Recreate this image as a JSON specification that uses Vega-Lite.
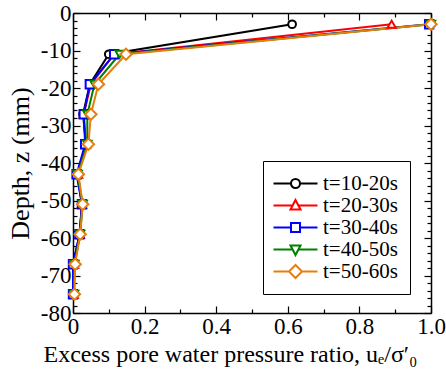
{
  "$schema": "https://vega.github.io/schema/vega-lite/v6.json",
  "autosize": {"type": "none"},
  "padding": {"left": 73, "top": 13, "right": 15, "bottom": 66},
  "width": 358,
  "height": 300,
  "background": "white",
  "config": {
    "view": {"stroke": null},
    "font": "Liberation Serif",
    "axis": {
      "domainColor": "black", "domainWidth": 1.5, "tickColor": "black", "tickWidth": 1.2,
      "labelFont": "Liberation Serif", "labelFontSize": 23, "labelColor": "black",
      "titleFont": "Liberation Serif", "titleFontSize": 26, "titleFontWeight": "normal", "titleColor": "black",
      "grid": false
    }
  },
  "data": {"values": [
    {"series": "t=10-20s", "depth": -3, "ratio": 0.612},
    {"series": "t=10-20s", "depth": -11, "ratio": 0.10},
    {"series": "t=10-20s", "depth": -19, "ratio": 0.047},
    {"series": "t=10-20s", "depth": -27, "ratio": 0.028},
    {"series": "t=10-20s", "depth": -35, "ratio": 0.036},
    {"series": "t=10-20s", "depth": -43, "ratio": 0.012},
    {"series": "t=10-20s", "depth": -51, "ratio": 0.025},
    {"series": "t=10-20s", "depth": -59, "ratio": 0.019},
    {"series": "t=10-20s", "depth": -67, "ratio": 0.0},
    {"series": "t=10-20s", "depth": -75, "ratio": 0.0},
    {"series": "t=20-30s", "depth": -3, "ratio": 0.89},
    {"series": "t=20-30s", "depth": -11, "ratio": 0.115},
    {"series": "t=20-30s", "depth": -19, "ratio": 0.05},
    {"series": "t=20-30s", "depth": -27, "ratio": 0.03},
    {"series": "t=20-30s", "depth": -35, "ratio": 0.036},
    {"series": "t=20-30s", "depth": -43, "ratio": 0.014},
    {"series": "t=20-30s", "depth": -51, "ratio": 0.025},
    {"series": "t=20-30s", "depth": -59, "ratio": 0.019},
    {"series": "t=20-30s", "depth": -67, "ratio": 0.003},
    {"series": "t=20-30s", "depth": -75, "ratio": 0.002},
    {"series": "t=30-40s", "depth": -3, "ratio": 0.995},
    {"series": "t=30-40s", "depth": -11, "ratio": 0.115},
    {"series": "t=30-40s", "depth": -19, "ratio": 0.047},
    {"series": "t=30-40s", "depth": -27, "ratio": 0.03},
    {"series": "t=30-40s", "depth": -35, "ratio": 0.034},
    {"series": "t=30-40s", "depth": -43, "ratio": 0.01},
    {"series": "t=30-40s", "depth": -51, "ratio": 0.025},
    {"series": "t=30-40s", "depth": -59, "ratio": 0.018},
    {"series": "t=30-40s", "depth": -67, "ratio": 0.0},
    {"series": "t=30-40s", "depth": -75, "ratio": 0.0},
    {"series": "t=40-50s", "depth": -3, "ratio": 1.0},
    {"series": "t=40-50s", "depth": -11, "ratio": 0.13},
    {"series": "t=40-50s", "depth": -19, "ratio": 0.06},
    {"series": "t=40-50s", "depth": -27, "ratio": 0.04},
    {"series": "t=40-50s", "depth": -35, "ratio": 0.04},
    {"series": "t=40-50s", "depth": -43, "ratio": 0.013},
    {"series": "t=40-50s", "depth": -51, "ratio": 0.027},
    {"series": "t=40-50s", "depth": -59, "ratio": 0.02},
    {"series": "t=40-50s", "depth": -67, "ratio": 0.004},
    {"series": "t=40-50s", "depth": -75, "ratio": 0.003},
    {"series": "t=50-60s", "depth": -3, "ratio": 1.0},
    {"series": "t=50-60s", "depth": -11, "ratio": 0.148},
    {"series": "t=50-60s", "depth": -19, "ratio": 0.071},
    {"series": "t=50-60s", "depth": -27, "ratio": 0.05},
    {"series": "t=50-60s", "depth": -35, "ratio": 0.043},
    {"series": "t=50-60s", "depth": -43, "ratio": 0.015},
    {"series": "t=50-60s", "depth": -51, "ratio": 0.027},
    {"series": "t=50-60s", "depth": -59, "ratio": 0.02},
    {"series": "t=50-60s", "depth": -67, "ratio": 0.006},
    {"series": "t=50-60s", "depth": -75, "ratio": 0.004}
  ]},
  "resolve": {"axis": {"x": "independent", "y": "independent"}},
  "layer": [
    {
      "mark": {"type": "line", "strokeWidth": 2},
      "encoding": {
        "x": {"field": "ratio", "type": "quantitative",
          "scale": {"domain": [0, 1], "nice": false},
          "axis": {"orient": "bottom", "title": "Excess pore water pressure ratio, uₑ/σ′₀",
            "values": [0, 0.1, 0.2, 0.3, 0.4, 0.5, 0.6, 0.7, 0.8, 0.9, 1.0],
            "labelExpr": "round(datum.value*10)%2==0 ? (datum.value==0 ? '0' : format(datum.value, '.1f')) : ''",
            "tickSize": {"condition": {"test": "round(datum.value*10)%2==0", "value": -7}, "value": -4},
            "labelPadding": 9, "titleFontSize": 24, "titleX": 157, "titleY": 29, "titleAlign": "center", "titleBaseline": "top",
            "labelFlush": false, "labelOverlap": false}},
        "y": {"field": "depth", "type": "quantitative",
          "scale": {"domain": [-80, 0], "nice": false},
          "axis": {"orient": "left", "title": "Depth, z (mm)",
            "values": [0, -2, -4, -6, -8, -10, -12, -14, -16, -18, -20, -22, -24, -26, -28, -30, -32, -34, -36, -38, -40, -42, -44, -46, -48, -50, -52, -54, -56, -58, -60, -62, -64, -66, -68, -70, -72, -74, -76, -78, -80],
            "labelExpr": "datum.value%10==0 ? ''+datum.value : ''",
            "tickSize": {"condition": {"test": "datum.value%10==0", "value": -7}, "value": -4},
            "labelPadding": 9, "titleX": -53, "titleY": 150, "titleAlign": "center", "titleBaseline": "middle", "titleAngle": -90,
            "labelFlush": false, "labelOverlap": false}},
        "color": {"field": "series", "type": "nominal",
          "scale": {"domain": ["t=10-20s", "t=20-30s", "t=30-40s", "t=40-50s", "t=50-60s"],
                    "range": ["#000000", "#ff0000", "#0000ff", "#008000", "#e67e0e"]},
          "legend": {"orient": "none", "legendX": 190, "legendY": 148, "title": null,
            "labelFont": "Liberation Serif", "labelFontSize": 21, "labelColor": "black",
            "symbolSize": 100, "labelOffset": 27, "rowPadding": 0, "padding": 12,
            "strokeColor": "black", "fillColor": "white", "symbolStrokeWidth": 2, "symbolFillColor": "white"}},
        "order": {"field": "depth", "type": "quantitative", "sort": "descending"}
      }
    },
    {
      "transform": [{"filter": "datum.series == 't=10-20s'"}],
      "mark": {"type": "point", "shape": "circle", "size": 60, "filled": false, "fill": "white", "fillOpacity": 1, "strokeWidth": 2},
      "encoding": {
        "x": {"field": "ratio", "type": "quantitative",
          "axis": {"orient": "top", "title": null, "labels": false, "domainWidth": 1.5,
            "values": [0, 0.1, 0.2, 0.3, 0.4, 0.5, 0.6, 0.7, 0.8, 0.9, 1.0],
            "tickSize": {"condition": {"test": "round(datum.value*10)%2==0", "value": -7}, "value": -4}}},
        "y": {"field": "depth", "type": "quantitative",
          "axis": {"orient": "right", "title": null, "labels": false,
            "values": [0, -2, -4, -6, -8, -10, -12, -14, -16, -18, -20, -22, -24, -26, -28, -30, -32, -34, -36, -38, -40, -42, -44, -46, -48, -50, -52, -54, -56, -58, -60, -62, -64, -66, -68, -70, -72, -74, -76, -78, -80],
            "tickSize": {"condition": {"test": "datum.value%10==0", "value": -7}, "value": -4}}},
        "color": {"field": "series", "type": "nominal"}
      }
    },
    {
      "transform": [{"filter": "datum.series == 't=20-30s'"}],
      "mark": {"type": "point", "shape": "triangle-up", "size": 70, "filled": false, "fill": "white", "fillOpacity": 1, "strokeWidth": 2},
      "encoding": {
        "x": {"field": "ratio", "type": "quantitative", "axis": null},
        "y": {"field": "depth", "type": "quantitative", "axis": null},
        "color": {"field": "series", "type": "nominal"}
      }
    },
    {
      "transform": [{"filter": "datum.series == 't=30-40s'"}],
      "mark": {"type": "point", "shape": "square", "size": 70, "filled": false, "fill": "white", "fillOpacity": 1, "strokeWidth": 2},
      "encoding": {
        "x": {"field": "ratio", "type": "quantitative", "axis": null},
        "y": {"field": "depth", "type": "quantitative", "axis": null},
        "color": {"field": "series", "type": "nominal"}
      }
    },
    {
      "transform": [{"filter": "datum.series == 't=40-50s'"}],
      "mark": {"type": "point", "shape": "triangle-down", "size": 70, "filled": false, "fill": "white", "fillOpacity": 1, "strokeWidth": 2},
      "encoding": {
        "x": {"field": "ratio", "type": "quantitative", "axis": null},
        "y": {"field": "depth", "type": "quantitative", "axis": null},
        "color": {"field": "series", "type": "nominal"}
      }
    },
    {
      "transform": [{"filter": "datum.series == 't=50-60s'"}],
      "mark": {"type": "point", "shape": "diamond", "size": 130, "filled": false, "fill": "white", "fillOpacity": 1, "strokeWidth": 2},
      "encoding": {
        "x": {"field": "ratio", "type": "quantitative", "axis": null},
        "y": {"field": "depth", "type": "quantitative", "axis": null},
        "color": {"field": "series", "type": "nominal"}
      }
    },
    {
      "transform": [{"filter": "datum.depth > 100"}],
      "mark": {"type": "point", "filled": false, "fill": "white", "fillOpacity": 1, "strokeWidth": 2},
      "encoding": {
        "x": {"field": "ratio", "type": "quantitative", "axis": null},
        "y": {"field": "depth", "type": "quantitative", "axis": null},
        "color": {"field": "series", "type": "nominal"},
        "shape": {"field": "series", "type": "nominal",
          "scale": {"domain": ["t=10-20s", "t=20-30s", "t=30-40s", "t=40-50s", "t=50-60s"],
                    "range": ["M-2.4,0H1.1M2.9,0H6.4M1.1,0A0.9,0.9 0 1,1 2.9,0A0.9,0.9 0 1,1 1.1,0Z",
                              "M-2.4,0H1.4M2.6,0H6.4M2,-1.1L3,0.8L1,0.8Z",
                              "M-2.4,0H1.1M2.9,0H6.4M1.1,-0.9H2.9V0.9H1.1Z",
                              "M-2.4,0H1.4M2.6,0H6.4M2,1.1L3,-0.8L1,-0.8Z",
                              "M-2.4,0H0.7M3.3,0H6.4M0.7,0L2,-1.3L3.3,0L2,1.3Z"]},
          "legend": null}
      }
    }
  ]
}
